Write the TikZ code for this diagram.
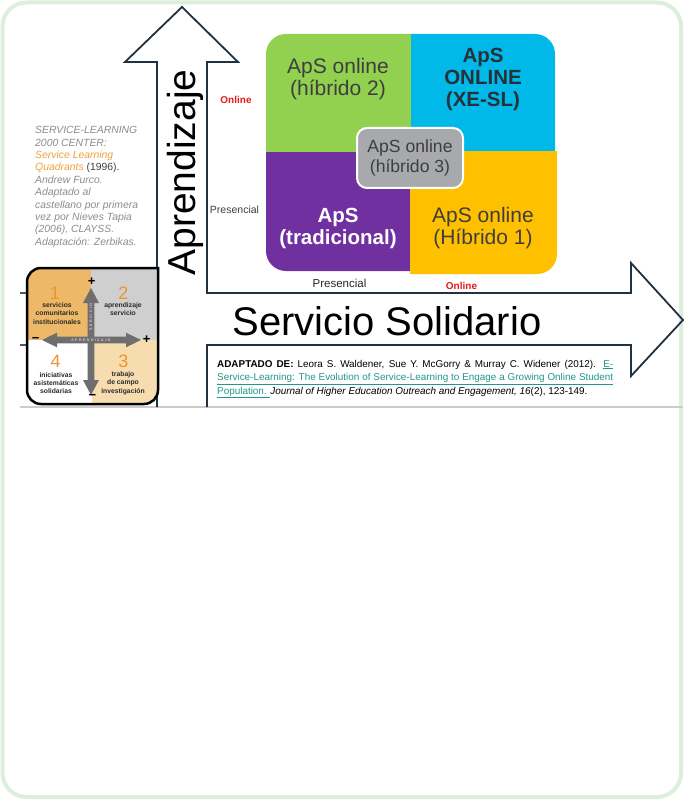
\documentclass[tikz,border=0pt]{standalone}
\usepackage{fontspec}
\setmainfont{Liberation Sans}
\definecolor{navy}{HTML}{1F3142}
\definecolor{framegreen}{HTML}{DCEEDC}
\definecolor{qgreen}{HTML}{92D050}
\definecolor{qblue}{HTML}{00B9E8}
\definecolor{qpurple}{HTML}{7030A0}
\definecolor{qorange}{HTML}{FFC000}
\definecolor{qgray}{HTML}{A7A9AC}
\definecolor{qtext}{HTML}{3E3E3E}
\definecolor{qbluetext}{HTML}{27313B}
\definecolor{onred}{HTML}{E31B1B}
\definecolor{srcgray}{HTML}{8C8C8C}
\definecolor{srcorange}{HTML}{E9A23B}
\definecolor{linkteal}{HTML}{21968A}
\definecolor{mOrange}{HTML}{EDB868}
\definecolor{mGray}{HTML}{CFCFCF}
\definecolor{mPeach}{HTML}{F7DCB0}
\definecolor{mNum}{HTML}{E8982C}
\definecolor{mArrow}{HTML}{6E6E6E}
\definecolor{mText}{HTML}{2B2B2B}
\begin{document}
\begin{tikzpicture}[x=1pt,y=-1pt,
  outline/.style={draw=navy,line width=1.8pt,line join=miter},
  qlabel/.style={align=center,inner sep=0pt,text=qtext,font=\fontsize{21}{22.5}\selectfont},
  axislab/.style={inner sep=0pt},
  srcline/.style={anchor=base west,inner sep=0pt,text=srcgray,font=\fontsize{10.4}{12.4}\selectfont\itshape},
  citeline/.style={anchor=base west,inner sep=0pt,font=\fontsize{9.9}{13}\selectfont},
  mlabel/.style={align=center,inner sep=0pt,text=mText,font=\bfseries\fontsize{6.8}{8.4}\selectfont},
  mnum/.style={inner sep=0pt,text=mNum,font=\fontsize{18}{18}\selectfont},
  msign/.style={inner sep=0pt,font=\bfseries\fontsize{13}{13}\selectfont},
  tinylab/.style={inner sep=0pt,text=white,font=\fontsize{3.6}{4}\selectfont\addfontfeatures{LetterSpace=40}}]
\useasboundingbox (0,0) rectangle (683,802);
% outer frame
\draw[framegreen,line width=4pt,rounded corners=24pt] (2.5,2.5) rectangle (681,797);
% base lines
\draw[gray!40,line width=1.2pt] (20,407) -- (683,407);
\draw[navy!80,line width=1.2pt] (20,293) -- (27,293) (20,345) -- (27,345);
% the two big arrows
\draw[outline] (157,407) -- (157,62) -- (125,62) -- (182,7) -- (238,62) -- (207,62)
  -- (207,293) -- (631,293) -- (631,263) -- (683,320) -- (631,376) -- (631,345)
  -- (207,345) -- (207,407);
\node[rotate=90,anchor=base,inner sep=0pt,font=\fontsize{39}{39}\selectfont] (apr) at (195,172.5) {Aprendizaje};
\node[inner sep=0pt,font=\fontsize{40}{40}\selectfont] (ss) at (387,321) {Servicio Solidario};
% quadrants
\begin{scope}\clip (266,34) rectangle (411,153); \fill[qgreen,rounded corners=20pt] (266,34) rectangle (470,210); \end{scope}
\begin{scope}\clip (411,34) rectangle (555,153); \fill[qblue,rounded corners=20pt] (350,34) rectangle (555,210); \end{scope}
\begin{scope}\clip (266,153) rectangle (410,271); \fill[qpurple,rounded corners=20pt] (266,90) rectangle (470,271); \end{scope}
\begin{scope}\clip (410,152) rectangle (557,274); \fill[qorange,rounded corners=20pt] (350,90) rectangle (557,274); \end{scope}
\draw[white,fill=qgray,line width=2pt,rounded corners=10pt] (357,128) rectangle (463,188);
\node[qlabel] (h2) at (338,79) {ApS online\\(híbrido 2)};
\node[qlabel,text=qbluetext,font=\bfseries\fontsize{20.5}{22}\selectfont] (xe) at (483,79) {ApS\\ONLINE\\(XE-SL)};
\node[qlabel,font=\fontsize{17.6}{20.5}\selectfont] (h3) at (410,158) {ApS online\\(híbrido 3)};
\node[qlabel,text=white,font=\bfseries\fontsize{20.5}{22}\selectfont] (trad) at (338,228) {ApS\\(tradicional)};
\node[qlabel] (h1) at (483,228) {ApS online\\(Híbrido 1)};
% axis labels
\node[axislab,text=onred,font=\bfseries\fontsize{10}{10}\selectfont] (onl1) at (236,100) {Online};
\node[axislab,text=black!75,font=\fontsize{10.5}{10.5}\selectfont] (pre1) at (234.5,210) {Presencial};
\node[axislab,text=black!85,font=\fontsize{11.5}{11.5}\selectfont] (pre2) at (339.5,283.5) {Presencial};
\node[axislab,text=onred,font=\bfseries\fontsize{10}{10}\selectfont] (onl2) at (461.5,285.5) {Online};
% source text
\node[srcline] (s1) at (35,133.8) {SERVICE-LEARNING};
\node[srcline] (s2) at (35,146.2) {2000 CENTER:};
\node[srcline,text=srcorange] (s3) at (35,158.6) {Service Learning};
\node[srcline,text=srcorange] (s4) at (35,171.0) {Quadrants {\upshape\color{black!75}(1996).}};
\node[srcline] (s5) at (35,183.4) {Andrew Furco.};
\node[srcline] (s6) at (35,195.8) {Adaptado al};
\node[srcline] (s7) at (35,208.2) {castellano por primera};
\node[srcline] (s8) at (35,220.6) {vez por Nieves Tapia};
\node[srcline] (s9) at (35,233.0) {(2006), CLAYSS.};
\node[srcline] (s10) at (35,245.4) {Adaptación: Zerbikas.};
% citation
\node[citeline] (c1) at (217,367) {\makebox[396pt][s]{\textbf{ADAPTADO DE:} Leora S. Waldener, Sue Y. McGorry \& Murray C. Widener (2012). {\color{linkteal}\underline{E-}}}};
\node[citeline,text=linkteal] (c2) at (217,380.5) {\underline{\makebox[396pt][s]{Service-Learning: The Evolution of Service-Learning to Engage a Growing Online Student}}};
\node[citeline] (c3) at (217,394) {{\color{linkteal}\underline{Population. }}\textit{Journal of Higher Education Outreach and Engagement, 16}(2), 123-149.};
% mini quadrant picture
\begin{scope}\clip (27,268) rectangle (91,340); \fill[mOrange,rounded corners=14pt] (27,268) rectangle (130,380); \end{scope}
\fill[mGray] (91,268) rectangle (158,340);
\begin{scope}\clip (27,340) rectangle (92,404); \fill[white,rounded corners=14pt] (27,300) rectangle (130,404); \end{scope}
\begin{scope}\clip (92,340) rectangle (158,404); \fill[mPeach,rounded corners=14pt] (60,300) rectangle (158,404); \end{scope}
\draw[black,line width=2.5pt,line cap=rect,rounded corners=14pt] (158,268) -- (27,268) -- (27,404) -- (158,404) -- (158,268);
\fill[mArrow] (42,340) -- (57,332.7) -- (57,336.7) -- (126,336.7) -- (126,332.7) -- (141,340)
  -- (126,347.3) -- (126,343.3) -- (57,343.3) -- (57,347.3) -- cycle;
\fill[mArrow] (91,288) -- (99,303) -- (94.3,303) -- (94.3,380) -- (99,380) -- (91,395)
  -- (83,380) -- (87.7,380) -- (87.7,303) -- (83,303) -- cycle;
\node[tinylab] (tapr) at (91,340) {APRENDIZAJE};
\node[tinylab,rotate=90] (tser) at (91,317) {SERVICIO};
\node[msign] (p1) at (91.7,281.5) {+};
\node[msign] (m1) at (35.7,339.5) {−};
\node[msign] (p2) at (146.7,339.5) {+};
\node[msign] (m2) at (92.3,396.5) {−};
\node[mnum] (n1) at (55,293.3) {1};
\node[mnum] (n2) at (123.3,293.3) {2};
\node[mnum] (n4) at (55.7,361.7) {4};
\node[mnum] (n3) at (123.3,361.7) {3};
\node[mlabel] (l1) at (57,313.5) {servicios\\comunitarios\\institucionales};
\node[mlabel] (l2) at (123,309) {aprendizaje\\servicio};
\node[mlabel] (l4) at (56,383) {iniciativas\\asistemáticas\\solidarias};
\node[mlabel] (l3) at (123,383) {trabajo\\de campo\\investigación};
\end{tikzpicture}
\end{document}
